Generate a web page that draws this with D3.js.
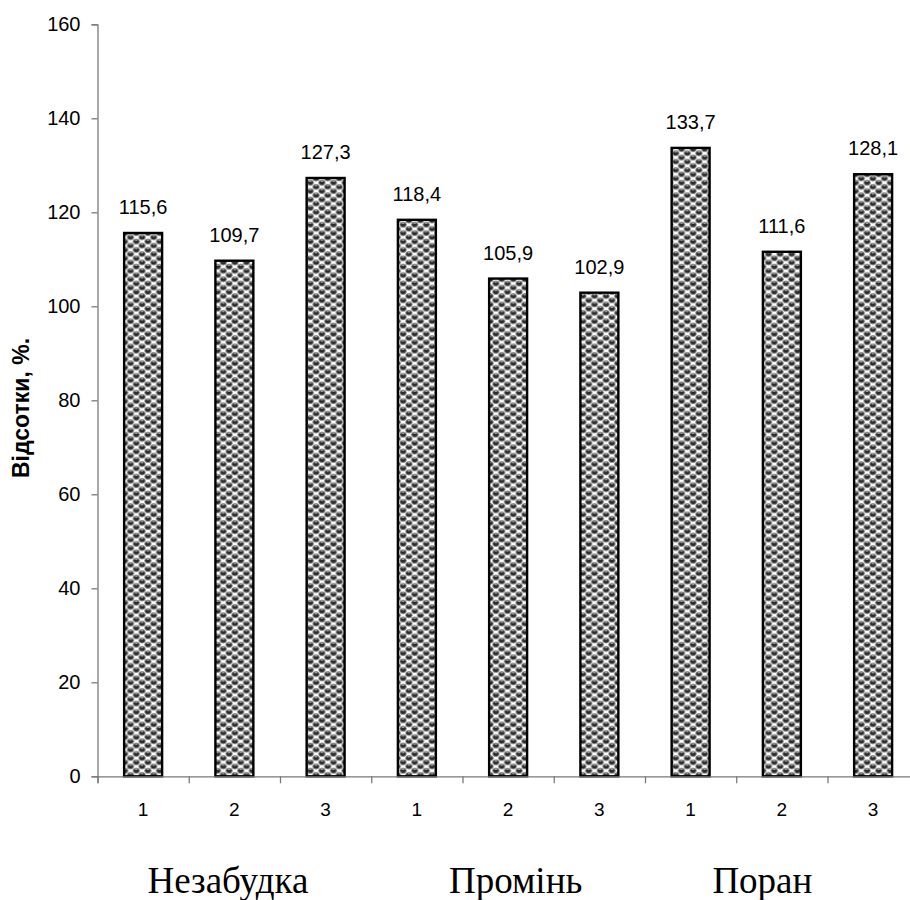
<!DOCTYPE html>
<html>
<head>
<meta charset="utf-8">
<script src="https://cdn.jsdelivr.net/npm/d3@7"></script>
<style>
  html, body { margin: 0; padding: 0; background: #fff; }
  svg { display: block; }
</style>
</head>
<body>
<svg id="chart" width="910" height="900"></svg>
<script>
// Sprouted seeds by variety and treatment variant, % of control
const varieties = ["Незабудка", "Промінь", "Поран"];
const variants = ["1", "2", "3"];
const values = [115.6, 109.7, 127.3, 118.4, 105.9, 102.9, 133.7, 111.6, 128.1];
const yTicks = [0, 20, 40, 60, 80, 100, 120, 140, 160];
const yTitle = "Відсотки, %.";

const categories = [];
varieties.forEach((v, gi) => variants.forEach((n, i) => categories.push({ key: gi * 3 + i, variety: v, variant: n })));
const bars = categories.map((c, i) => ({ ...c, value: values[i] }));

const sans = "Arial, 'Liberation Sans', sans-serif";
const serif = "'Times New Roman', 'Liberation Serif', serif";

const svg = d3.select("#chart");
const plotLeft = 97.5, step = 91.25, plotTop = 24.3, plotBottom = 776.3;
const plotRight = plotLeft + step * categories.length;
// variety captions sit under the chart as free text, shifted from the group centres
const captionShift = [-6.5, 7.5, -19.5];

const x = d3.scaleBand()
  .domain(categories.map(c => c.key))
  .range([plotLeft, plotRight])
  .paddingInner(0.584)
  .paddingOuter(0.292);
const xEdge = d3.scaleLinear().domain([0, categories.length]).range([plotLeft, plotRight]);
const y = d3.scaleLinear().domain([0, 160]).range([plotBottom, plotTop]);

// Checkered sphere fill for the bars
const tw = 11.6, th = 8.4;
const defs = svg.append("defs");
const pat = defs.append("pattern")
  .attr("id", "balls")
  .attr("patternUnits", "userSpaceOnUse")
  .attr("width", tw).attr("height", th);
pat.append("rect").attr("width", tw).attr("height", th).attr("fill", "#fff");
const centres = [];
[[0.25, 0.25], [0.75, 0.75]].forEach(([fx, fy]) => {
  [-1, 0, 1].forEach(ox => [-1, 0, 1].forEach(oy => centres.push([(fx + ox) * tw, (fy + oy) * th])));
});
centres.forEach(([cx, cy]) => {
  pat.append("ellipse").attr("cx", cx).attr("cy", cy).attr("rx", 3.2).attr("ry", 2.6)
    .attr("fill", "#2b2b2b").attr("stroke", "#909090").attr("stroke-width", 0.9);
  pat.append("ellipse").attr("cx", cx).attr("cy", cy - 1.4).attr("rx", 1.5).attr("ry", 0.6)
    .attr("fill", "#a8a8a8");
});

// Bars
svg.append("g").selectAll("rect")
  .data(bars)
  .join("rect")
  .attr("x", d => x(d.key))
  .attr("y", d => y(d.value))
  .attr("width", x.bandwidth())
  .attr("height", d => y(0) - y(d.value))
  .attr("fill", "url(#balls)")
  .attr("stroke", "#000")
  .attr("stroke-width", 2.4);

// Value labels
svg.append("g").selectAll("text")
  .data(bars)
  .join("text")
  .attr("x", d => x(d.key) + x.bandwidth() / 2)
  .attr("y", d => y(d.value) - 19)
  .attr("text-anchor", "middle")
  .attr("font-family", sans)
  .attr("font-size", 20)
  .attr("fill", "#000")
  .text(d => d.value.toFixed(1).replace(".", ","));

// Y axis
const yAxis = svg.append("g")
  .attr("transform", `translate(${plotLeft},0)`)
  .call(d3.axisLeft(y).tickValues(yTicks).tickSize(6).tickPadding(11).tickFormat(d3.format("d")));
yAxis.select(".domain").attr("stroke", "#7a7a7a").attr("stroke-width", 1.3);
yAxis.selectAll(".tick line").attr("stroke", "#7a7a7a").attr("stroke-width", 1.3);
yAxis.selectAll(".tick text")
  .attr("font-family", sans)
  .attr("font-size", 20).attr("fill", "#000");

// X axis baseline with ticks on category boundaries
const xAxis = svg.append("g")
  .attr("transform", `translate(0,${plotBottom})`)
  .call(d3.axisBottom(xEdge).tickValues(d3.range(0, categories.length + 1)).tickSize(7).tickFormat(""));
xAxis.select(".domain").attr("stroke", "#7a7a7a").attr("stroke-width", 1.3);
xAxis.selectAll(".tick line").attr("stroke", "#7a7a7a").attr("stroke-width", 1.3);

// Variant numbers under each bar
svg.append("g").selectAll("text")
  .data(categories)
  .join("text")
  .attr("x", d => x(d.key) + x.bandwidth() / 2)
  .attr("y", plotBottom + 40)
  .attr("text-anchor", "middle")
  .attr("font-family", sans)
  .attr("font-size", 19)
  .attr("fill", "#000")
  .text(d => d.variant);

// Variety names under each group
svg.append("g").selectAll("text")
  .data(varieties)
  .join("text")
  .attr("x", (v, gi) => x(gi * 3 + 1) + x.bandwidth() / 2 + captionShift[gi])
  .attr("y", 893)
  .attr("text-anchor", "middle")
  .attr("font-family", serif)
  .attr("font-size", 37)
  .attr("fill", "#000")
  .text(v => v);

// Y axis title
svg.append("text")
  .attr("transform", `translate(29,408) rotate(-90)`)
  .attr("text-anchor", "middle")
  .attr("font-family", sans)
  .attr("font-weight", "bold")
  .attr("font-size", 23)
  .attr("fill", "#000")
  .text(yTitle);
</script>
</body>
</html>
